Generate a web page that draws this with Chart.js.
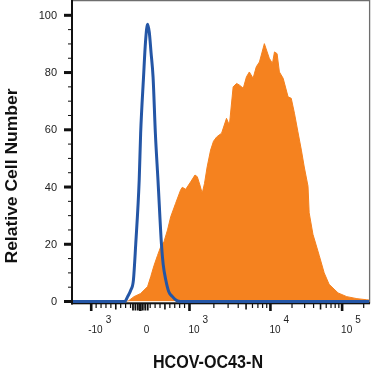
<!DOCTYPE html>
<html>
<head>
<meta charset="utf-8">
<script src="https://cdn.jsdelivr.net/npm/chart.js@4"></script>
<style>
  html, body { margin: 0; padding: 0; background: #fff; }
  canvas { display: block; }
</style>
</head>
<body>
<canvas id="grafico" width="372" height="373"></canvas>
<script>
// histogram data, x in display channels (0-1024), y = relative cell number
const naranjaX = [0, 186, 193, 211, 234, 258, 269, 280, 292, 303, 315, 327, 338, 355, 372, 378, 390, 407, 422, 430,
  439, 447, 455, 464, 476, 486, 497, 514, 531, 541, 554, 566, 576, 589, 600, 610, 623, 634, 645, 662,
  679, 690, 697, 706, 714, 727, 744, 755, 766, 778, 790, 800, 813, 817, 830, 852, 869, 886, 917, 947, 982, 1016, 1024];
const naranjaY = [0, 0, 0.3, 1.7, 2.8, 5.2, 8.7, 12.5, 16, 19, 21, 25, 29.6, 34.3, 38.9, 39.9, 39.2, 41.8, 44.2, 43.6,
  40.7, 37.8, 41.3, 47, 52.9, 56, 57.5, 58.8, 64, 61.6, 75, 76.2, 75.6, 74.5, 78.5, 80.2, 78, 82, 83.7, 90.1,
  85, 83.2, 87.2, 86.6, 80.2, 78, 71.5, 71, 65.8, 59.3, 52.9, 47, 40.3, 31, 23.5, 16, 10, 6, 3, 1.7, 1, 0.6, 0.5];

const azulX = [0, 179, 189, 200, 209, 217, 229, 234, 244, 251, 258, 264, 270, 277, 285, 294, 306, 312, 321, 331, 344, 359, 372, 1024];
const azulY = [0, 0, 1.7, 4, 7.5, 20, 42.4, 58.7, 78.4, 91, 96.9, 94, 87, 78.4, 58.7, 42.4, 20, 13, 7.5, 3.5, 1.7, 0.3, 0, 0];

const yTicks = [0, 20, 40, 60, 80, 100];
// major x ticks: channel, label base, exponent
const xMayorCanal = [63, 233, 403, 683, 931];
const xMayorBase = ['-10', '0', '10', '10', '10'];
const xMayorExp = ['3', '', '3', '4', '5'];

// channel for a fluorescence value (biexponential-like axis)
function canal(v) {
  if (Math.abs(v) <= 1000) return 233 + v / 1000 * 170;
  if (v <= 10000) return 403 + (Math.log10(v) - 3) * 280;
  return 683 + (Math.log10(v) - 4) * 248;
}

const marcasMenores = [];
const marcasMedias = [];
for (let v = 100; v < 1000; v += 100) {
  (v === 500 ? marcasMedias : marcasMenores).push(canal(v), canal(-v));
}
for (const d of [1000, 10000]) {
  for (let m = 2; m <= 9; m++) (m === 5 ? marcasMedias : marcasMenores).push(canal(m * d));
}
marcasMenores.push(canal(200000));
const marcasCero = [-150, -100, -50, 0, 50, 100, 150].map(canal);

function textoAjustado(ctx, texto, cx, cy, ancho) {
  const w = ctx.measureText(texto).width;
  ctx.save();
  ctx.translate(cx, cy);
  ctx.scale(ancho / w, 1);
  ctx.fillText(texto, 0, 0);
  ctx.restore();
}

const ejes = {
  id: 'ejes',
  beforeDatasetsDraw(chart) {
    const { ctx, chartArea: a, scales: { x, y } } = chart;
    ctx.save();
    // frame
    ctx.strokeStyle = '#6e6e6e';
    ctx.lineWidth = 1.3;
    ctx.beginPath();
    ctx.moveTo(a.left, 0.6);
    ctx.lineTo(a.right + 0.6, 0.6);
    ctx.lineTo(a.right + 0.6, a.bottom + 2);
    ctx.stroke();

    ctx.fillStyle = '#111';
    // axis lines
    ctx.fillRect(a.left - 2, 0, 2, a.bottom + 3 - 0);
    ctx.fillRect(a.left - 2, a.bottom + 0.8, a.right - a.left + 3, 2);

    // y ticks
    for (let v = 0; v <= 100; v += 5) {
      const py = y.getPixelForValue(v);
      if (v % 20 === 0) ctx.fillRect(a.left - 9, py - 1.5, 8, 3);
      else ctx.fillRect(a.left - 5, py - 0.5, 4, 1);
    }
    ctx.font = '11px "Liberation Sans", Arial, sans-serif';
    ctx.fillStyle = '#222';
    ctx.textAlign = 'right';
    ctx.textBaseline = 'middle';
    yTicks.forEach(v => ctx.fillText(String(v), 57, y.getPixelForValue(v) + 0.5));

    // x ticks
    ctx.fillStyle = '#111';
    const y0 = a.bottom + 2.5;
    marcasMenores.forEach(c => { const px = x.getPixelForValue(c); ctx.fillRect(px - 0.6, y0, 1.2, 4); });
    marcasMedias.forEach(c => { const px = x.getPixelForValue(c); ctx.fillRect(px - 0.8, y0, 1.6, 5.5); });
    marcasCero.forEach(c => { const px = x.getPixelForValue(c); ctx.fillRect(px - 0.9, y0, 1.8, 6.5); });
    xMayorCanal.forEach(c => { const px = x.getPixelForValue(c); ctx.fillRect(px - 1.3, y0, 2.6, 7); });

    // x labels with exponent
    ctx.fillStyle = '#222';
    ctx.font = '10px "Liberation Sans", Arial, sans-serif';
    ctx.textAlign = 'left';
    ctx.textBaseline = 'alphabetic';
    xMayorCanal.forEach((c, i) => {
      const px = x.getPixelForValue(c);
      const base = xMayorBase[i];
      let lx = px - 1;
      if (base === '-10') lx = px - 3;
      if (base === '0') lx = px + 3.5;
      ctx.fillText(base, lx, a.bottom + 31.5);
      if (xMayorExp[i]) {
        const w = ctx.measureText(base).width;
        ctx.fillText(xMayorExp[i], lx + w + 3, a.bottom + 21.5);
      }
    });

    // axis titles
    ctx.fillStyle = '#111';
    ctx.textAlign = 'center';
    ctx.font = 'bold 18px "Liberation Sans", Arial, sans-serif';
    textoAjustado(ctx, 'HCOV-OC43-N', 208, 368, 110);
    ctx.save();
    ctx.translate(17, 176);
    ctx.rotate(-Math.PI / 2);
    ctx.font = 'bold 16.5px "Liberation Sans", Arial, sans-serif';
    textoAjustado(ctx, 'Relative Cell Number', 0, 0, 175);
    ctx.restore();
    ctx.restore();
  }
};

const ctx = document.getElementById('grafico').getContext('2d');
new Chart(ctx, {
  type: 'line',
  data: {
    datasets: [{
      label: 'control',
      data: azulX.map((c, i) => ({ x: c, y: azulY[i] })),
      borderColor: '#2456a6',
      borderWidth: 3,
      pointRadius: 0,
      fill: false,
      cubicInterpolationMode: 'monotone',
      clip: false
    }, {
      label: 'HCOV-OC43-N',
      data: naranjaX.map((c, i) => ({ x: c, y: naranjaY[i] })),
      borderColor: '#f5821f',
      backgroundColor: '#f5821f',
      borderWidth: 1,
      pointRadius: 0,
      fill: 'origin',
      tension: 0
    }]
  },
  options: {
    responsive: false,
    animation: false,
    devicePixelRatio: 1,
    layout: { padding: { left: 73, right: 3, top: 1, bottom: 71.5 } },
    plugins: { legend: { display: false }, tooltip: { enabled: false } },
    scales: {
      x: { type: 'linear', min: 0, max: 1024, display: false },
      y: { type: 'linear', min: 0, max: 105, display: false }
    }
  },
  plugins: [ejes]
});
</script>
</body>
</html>
